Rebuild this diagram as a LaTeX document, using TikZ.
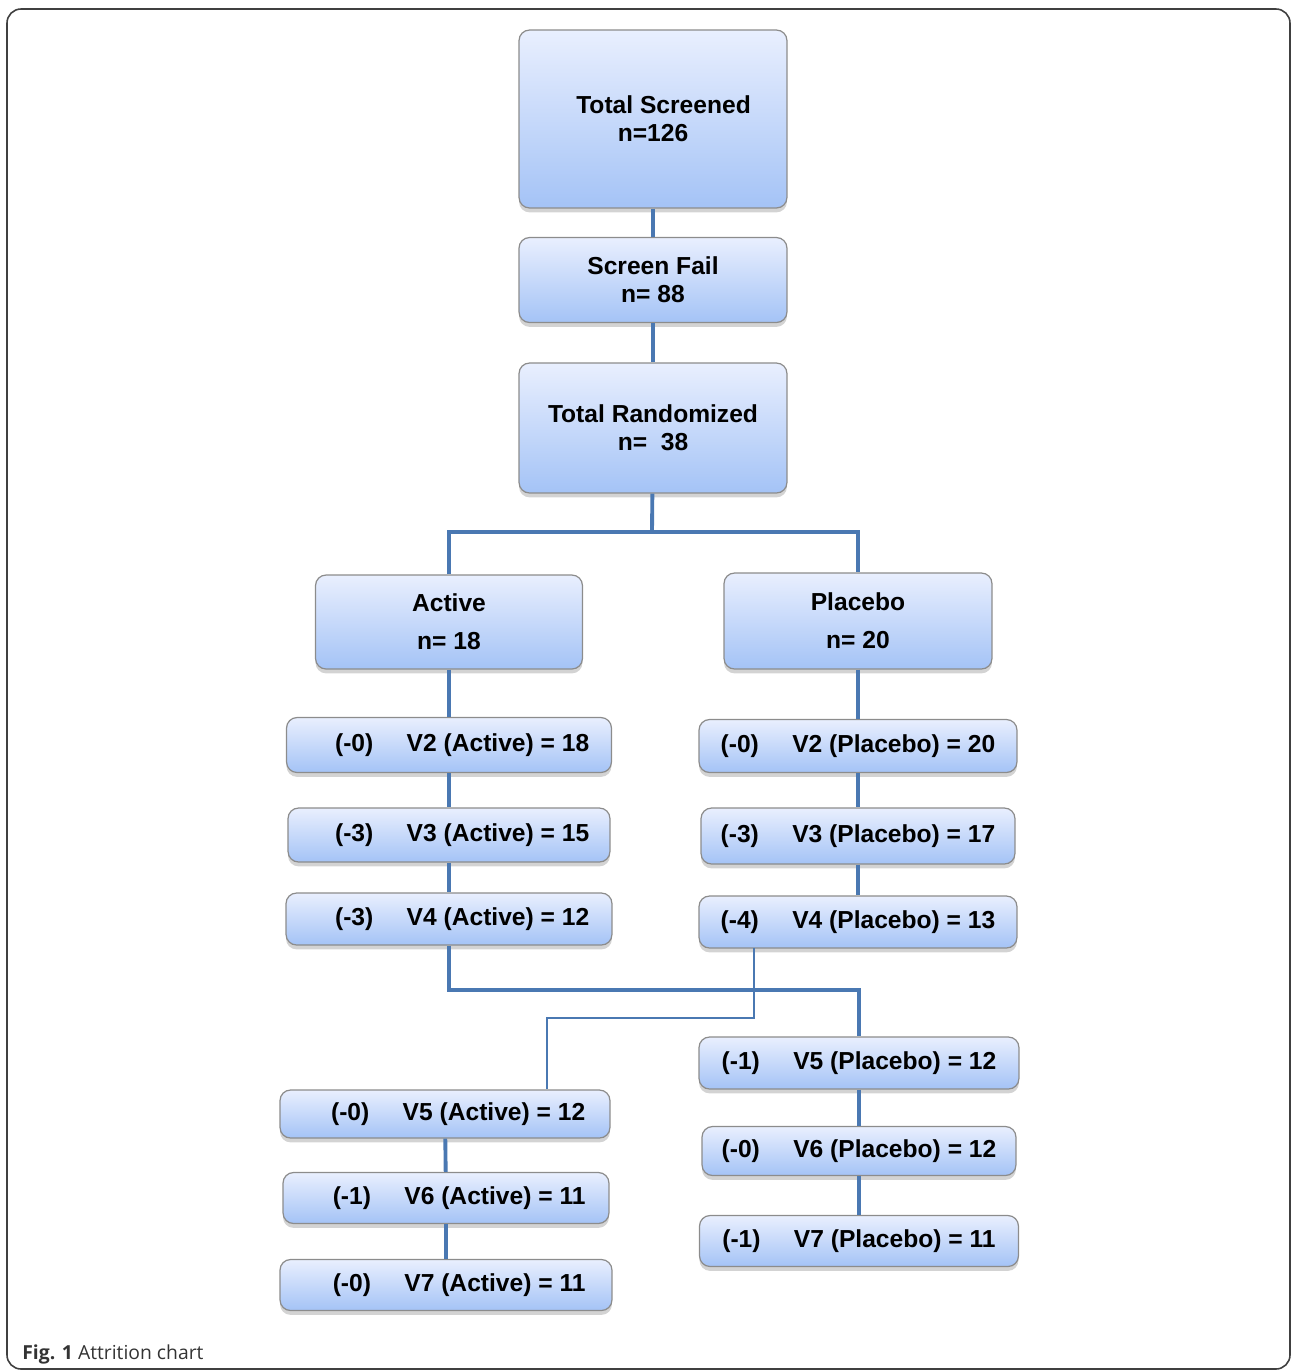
\documentclass[tikz,border=0pt]{standalone}
\usepackage{fontspec}
\setmainfont{Liberation Sans}
\newfontfamily\capfont{Open Sans}
\usetikzlibrary{shadows}
\definecolor{boxtop}{RGB}{233,239,254}
\definecolor{boxbot}{RGB}{164,195,246}
\definecolor{linkblue}{RGB}{74,120,178}

\begin{document}
\begin{tikzpicture}[x=0.02cm, y=-0.02cm,
  box/.style={draw=black!45, line width=0.7pt, rounded corners=6pt,
    top color=boxtop, bottom color=boxbot,
    drop shadow={shadow xshift=0pt, shadow yshift=-2.5pt, opacity=0.35},
    font=\bfseries\fontsize{14}{16}\selectfont, align=center, inner sep=0pt},
  abox/.style={box, execute at begin node={\hspace*{15pt}}},
  link/.style={draw=linkblue, line width=2.2pt},
  slimlink/.style={draw=linkblue, line width=1.5pt}]
  \useasboundingbox (0,0) rectangle (1292,1370);
  \draw [black!75, line width=0.9pt, rounded corners=8pt] (7,9) rectangle (1290,1369);

  \node [box, minimum width=5.36cm, minimum height=3.56cm] (screened) at (653,119) {\hspace*{12pt}Total Screened\\n=126};
  \node [box, minimum width=5.36cm, minimum height=1.70cm] (fail) at (653,280) {Screen Fail\\n= 88};
  \node [box, minimum width=5.36cm, minimum height=2.60cm] (random) at (653,428) {Total Randomized\\n=\ \ 38};
  \node [box, minimum width=5.34cm, minimum height=1.88cm] (active) at (449,622) {Active\\[5.5pt]n= 18};
  \node [box, minimum width=5.36cm, minimum height=1.92cm] (placebo) at (858,621) {Placebo\\[5.5pt]n= 20};

  \node [abox, minimum width=6.50cm, minimum height=1.10cm] (av2) at (449,745) {(-0)\hspace{19pt}V2 (Active) = 18};
  \node [abox, minimum width=6.44cm, minimum height=1.08cm] (av3) at (449,835) {(-3)\hspace{19pt}V3 (Active) = 15};
  \node [abox, minimum width=6.52cm, minimum height=1.04cm] (av4) at (449,919) {(-3)\hspace{19pt}V4 (Active) = 12};
  \node [box, minimum width=6.36cm, minimum height=1.06cm] (pv2) at (858,746) {(-0)\hspace{19pt}V2 (Placebo) = 20};
  \node [box, minimum width=6.28cm, minimum height=1.12cm] (pv3) at (858,836) {(-3)\hspace{19pt}V3 (Placebo) = 17};
  \node [box, minimum width=6.36cm, minimum height=1.04cm] (pv4) at (858,922) {(-4)\hspace{19pt}V4 (Placebo) = 13};

  \node [box, minimum width=6.40cm, minimum height=1.04cm] (pv5) at (859,1063) {(-1)\hspace{19pt}V5 (Placebo) = 12};
  \node [box, minimum width=6.28cm, minimum height=0.98cm] (pv6) at (859,1151) {(-0)\hspace{19pt}V6 (Placebo) = 12};
  \node [box, minimum width=6.38cm, minimum height=1.02cm] (pv7) at (859,1241) {(-1)\hspace{19pt}V7 (Placebo) = 11};
  \node [abox, minimum width=6.60cm, minimum height=0.96cm] (av5) at (445,1114) {(-0)\hspace{19pt}V5 (Active) = 12};
  \node [abox, minimum width=6.52cm, minimum height=1.02cm] (av6) at (446,1198) {(-1)\hspace{19pt}V6 (Active) = 11};
  \node [abox, minimum width=6.64cm, minimum height=1.02cm] (av7) at (446,1285) {(-0)\hspace{19pt}V7 (Active) = 11};

  \coordinate (split) at (652,532);
  \coordinate (join) at (653,990);
  \coordinate (drop) at (754,948);
  \coordinate (bend) at (547,1018);

  \draw [link] (screened) -- (fail);
  \draw [link] (fail) -- (random);
  \draw [link] (random) -- (split);
  \draw [link] (active) |- (split) -| (placebo);
  \draw [link] (active) -- (av2) -- (av3) -- (av4);
  \draw [link] (placebo) -- (pv2) -- (pv3) -- (pv4);
  \draw [link] (av4) |- (join) -| (pv5);
  \draw [slimlink] (drop) |- (bend) -- (bend |- av5.north);
  \draw [link] (pv5) -- (pv6) -- (pv7);
  \draw [link] (av5) -- (av6) -- (av7);

  \node [anchor=base west, inner sep=0pt, text=black!80, font=\capfont\fontsize{11}{13}\selectfont] (caption) at (22,1359) {\textbf{Fig. 1} Attrition chart};
\end{tikzpicture}
\end{document}
